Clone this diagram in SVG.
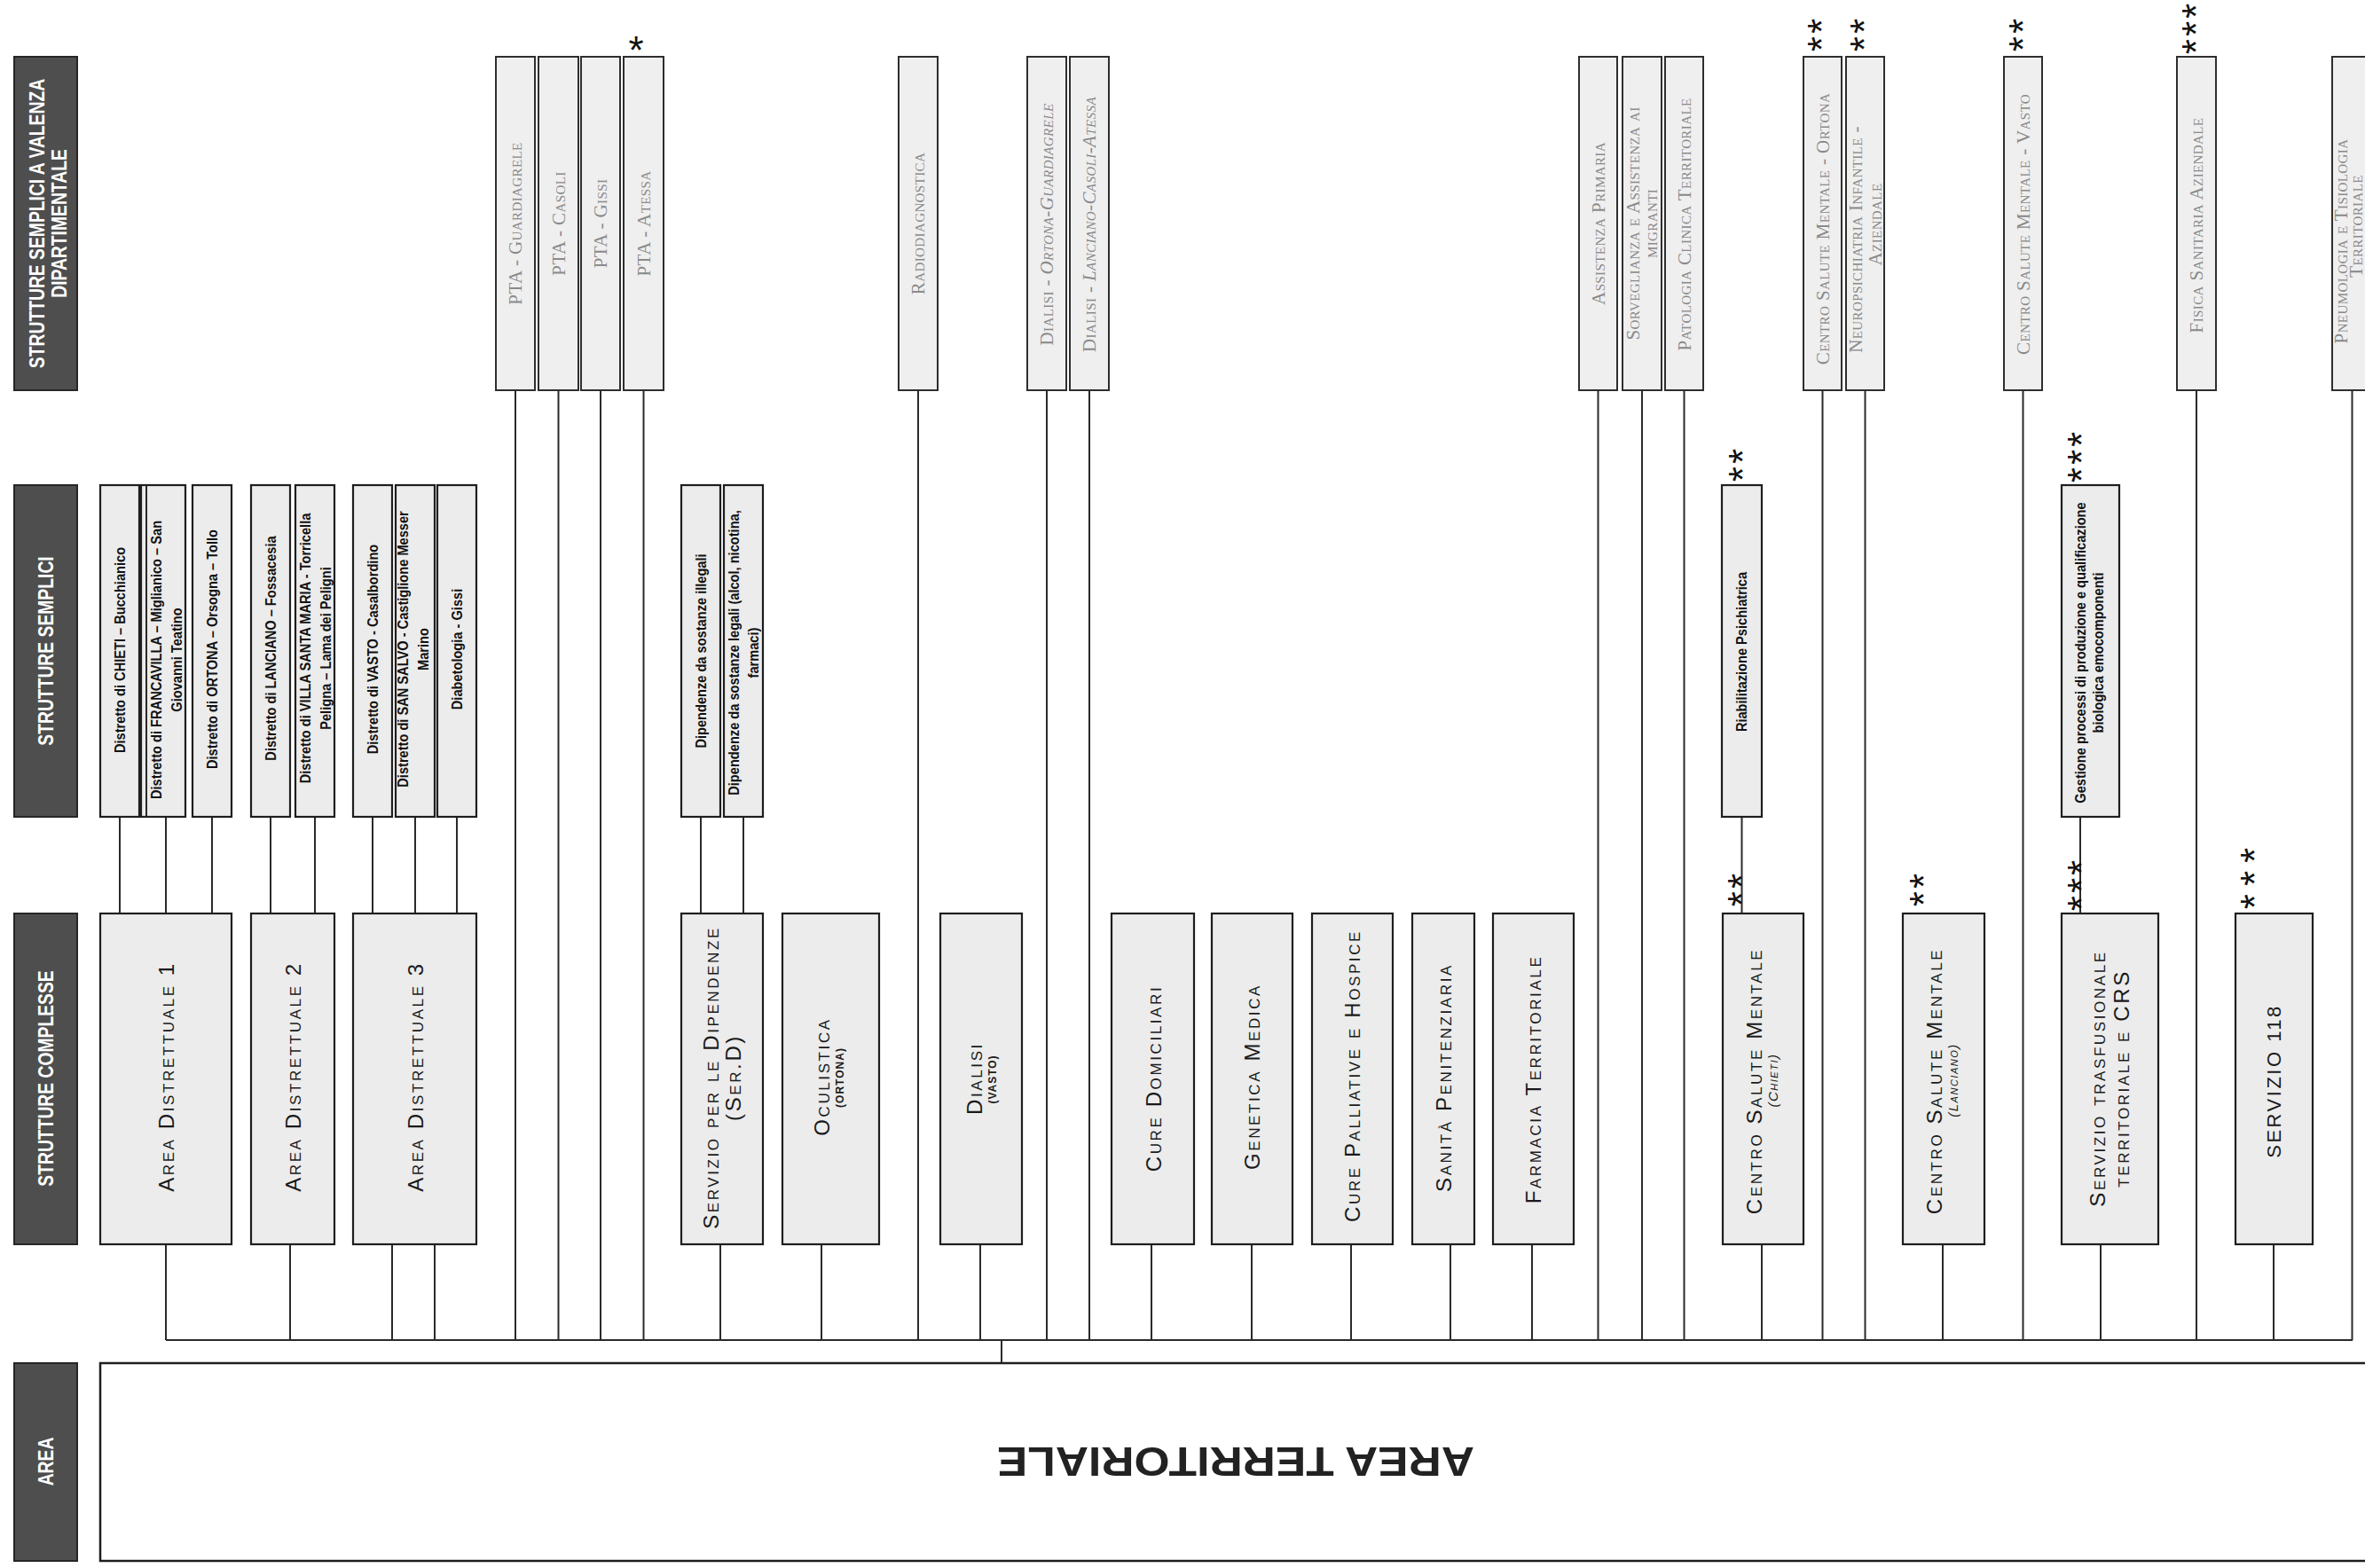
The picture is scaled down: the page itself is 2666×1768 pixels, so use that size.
<svg xmlns="http://www.w3.org/2000/svg" width="2666" height="1768" viewBox="0 0 2666 1768">
<style>
.hdr{fill:#4e4e4e;stroke:#262626;stroke-width:2}
.ht{fill:#ffffff;font-family:"Liberation Sans",Arial,sans-serif;font-weight:bold;font-size:23px;text-anchor:middle;dominant-baseline:central}
.bx{fill:#ececec;stroke:#1e1e1e;stroke-width:2.2}
.tb{fill:#efefef;stroke:#2e2e2e;stroke-width:2}
.tt{fill:#8a8a8a;font-family:"Liberation Serif","Times New Roman",serif;font-variant:small-caps;font-size:21px;letter-spacing:0.4px;text-anchor:middle;dominant-baseline:central}
.st{fill:#111111;font-family:"Liberation Sans",Arial,sans-serif;font-weight:bold;font-size:17px;text-anchor:middle;dominant-baseline:central}
.ct{fill:#1a1a1a;font-family:"Liberation Sans",Arial,sans-serif;font-variant:small-caps;font-size:24px;letter-spacing:2.6px;text-anchor:middle;dominant-baseline:central}
.cs{fill:#1a1a1a;font-family:"Liberation Sans",Arial,sans-serif;font-size:12px;font-weight:bold;letter-spacing:1px;text-anchor:middle;dominant-baseline:central}
.ci{fill:#1a1a1a;font-family:"Liberation Sans",Arial,sans-serif;font-variant:small-caps;font-style:italic;font-size:15px;letter-spacing:1.5px;text-anchor:middle;dominant-baseline:central}
.ln{stroke:#2a2a2a;stroke-width:2;fill:none}
.star{fill:#111111;font-family:"Liberation Sans",Arial,sans-serif;font-size:44px;text-anchor:middle}
.stars{fill:#111111;font-family:"Liberation Sans",Arial,sans-serif;font-size:44px;letter-spacing:3px;text-anchor:middle}
.area{fill:#ffffff;stroke:#1e1e1e;stroke-width:2.5}
.at{fill:#222222;font-family:"Liberation Sans",Arial,sans-serif;font-weight:bold;font-size:46px;text-anchor:middle;dominant-baseline:central}
.it{font-style:italic}
</style>
<rect x="0" y="0" width="2666" height="1768" fill="#ffffff"/>

<!-- headers -->
<g id="hdr-valenza">
<rect class="hdr" x="16" y="64" width="71" height="376"/>
<text class="ht" transform="translate(42,252) rotate(-90) scale(0.84 1)">STRUTTURE SEMPLICI A VALENZA</text>
<text class="ht" transform="translate(67,252) rotate(-90) scale(0.84 1)">DIPARTIMENTALE</text>
</g>
<g id="hdr-semplici">
<rect class="hdr" x="16" y="547" width="71" height="374"/>
<text class="ht" transform="translate(51.5,734) rotate(-90) scale(0.84 1)">STRUTTURE SEMPLICI</text>
</g>
<g id="hdr-complesse">
<rect class="hdr" x="16" y="1030" width="71" height="373"/>
<text class="ht" transform="translate(51.5,1216) rotate(-90) scale(0.84 1)">STRUTTURE COMPLESSE</text>
</g>
<g id="hdr-area">
<rect class="hdr" x="16" y="1537" width="71" height="223"/>
<text class="ht" transform="translate(51.5,1648) rotate(-90) scale(0.84 1)">AREA</text>
</g>

<!-- connectors -->
<g id="connectors">
<path class="ln" d="M581 440V1511M629.5 440V1511M677 440V1511M725.5 440V1511M1035 440V1511M1180 440V1511M1228 440V1511M1801.5 440V1511M1851 440V1511M1898.5 440V1511M2054.5 440V1511M2102.5 440V1511M2280.5 440V1511M2476 440V1511M2651.5 440V1511"/>
<path class="ln" d="M135 921V1030M187 921V1030M239 921V1030M305 921V1030M355 921V1030M420 921V1030M468 921V1030M515 921V1030M790 921V1030M838 921V1030M1963.5 921V1030M2345 921V1030"/>
<path class="ln" d="M187 1403V1511M327 1403V1511M442 1403V1511M490 1403V1511M812 1403V1511M926 1403V1511M1105 1403V1511M1298 1403V1511M1411 1403V1511M1523 1403V1511M1635 1403V1511M1727 1403V1511M1986 1403V1511M2190 1403V1511M2368 1403V1511M2563 1403V1511"/>
<path class="ln" d="M187 1511H2652M1129 1511V1537"/>
</g>

<!-- area -->
<g id="area-territoriale">
<rect class="area" x="113" y="1537" width="2580" height="223"/>
<text class="at" transform="translate(1393,1648) rotate(180) scale(1.12 1)">AREA TERRITORIALE</text>
</g>

<!-- top row: strutture semplici a valenza dipartimentale -->
<g id="pta-guardiagrele"><rect class="tb" x="559" y="64" width="44" height="376"/><text class="tt" transform="translate(581,252) rotate(-90)">PTA - Guardiagrele</text></g>
<g id="pta-casoli"><rect class="tb" x="607" y="64" width="45" height="376"/><text class="tt" transform="translate(629.5,252) rotate(-90)">PTA - Casoli</text></g>
<g id="pta-gissi"><rect class="tb" x="655" y="64" width="44" height="376"/><text class="tt" transform="translate(677,252) rotate(-90)">PTA - Gissi</text></g>
<g id="pta-atessa"><rect class="tb" x="703" y="64" width="45" height="376"/><text class="tt" transform="translate(725.5,252) rotate(-90)">PTA - Atessa</text><text class="star" x="717" y="72">*</text></g>
<g id="radiodiagnostica"><rect class="tb" x="1013" y="64" width="44" height="376"/><text class="tt" transform="translate(1035,252) rotate(-90)">Radiodiagnostica</text></g>
<g id="dialisi-ortona"><rect class="tb" x="1158" y="64" width="44" height="376"/><text class="tt" transform="translate(1180,253) rotate(-90)">Dialisi - <tspan class="it">Ortona-Guardiagrele</tspan></text></g>
<g id="dialisi-lanciano"><rect class="tb" x="1206" y="64" width="44" height="376"/><text class="tt" transform="translate(1228,253) rotate(-90)">Dialisi - <tspan class="it">Lanciano-Casoli-Atessa</tspan></text></g>
<g id="assistenza-primaria"><rect class="tb" x="1780" y="64" width="43" height="376"/><text class="tt" transform="translate(1801.5,252) rotate(-90)">Assistenza Primaria</text></g>
<g id="sorveglianza"><rect class="tb" x="1829" y="64" width="44" height="376"/><text class="tt" transform="translate(1851,252) rotate(-90)"><tspan x="0" dy="-10">Sorveglianza e Assistenza ai</tspan><tspan x="0" dy="20">migranti</tspan></text></g>
<g id="patologia-clinica"><rect class="tb" x="1877" y="64" width="43" height="376"/><text class="tt" transform="translate(1898.5,253) rotate(-90)">Patologia Clinica Territoriale</text></g>
<g id="csm-ortona"><rect class="tb" x="2033" y="64" width="43" height="376"/><text class="tt" transform="translate(2054.5,258) rotate(-90)">Centro Salute Mentale - Ortona</text><text class="stars" transform="translate(2069,38) rotate(-90)">**</text></g>
<g id="neuropsichiatria"><rect class="tb" x="2081" y="64" width="43" height="376"/><text class="tt" transform="translate(2092,270) rotate(-90)">Neuropsichiatria Infantile -</text><text class="tt" transform="translate(2114,253) rotate(-90)">Aziendale</text><text class="stars" transform="translate(2117,38) rotate(-90)">**</text></g>
<g id="csm-vasto"><rect class="tb" x="2259" y="64" width="43" height="376"/><text class="tt" transform="translate(2280.5,253) rotate(-90)">Centro Salute Mentale - Vasto</text><text class="stars" transform="translate(2296,38) rotate(-90)">**</text></g>
<g id="fisica-sanitaria"><rect class="tb" x="2454" y="64" width="44" height="376"/><text class="tt" transform="translate(2476,254) rotate(-90)">Fisica Sanitaria Aziendale</text><text class="stars" transform="translate(2491,31) rotate(-90)">***</text></g>
<g id="pneumologia"><rect class="tb" x="2629" y="64" width="45" height="376"/><text class="tt" transform="translate(2639,272) rotate(-90)">Pneumologia e Tisiologia</text><text class="tt" transform="translate(2656,255) rotate(-90)">Territoriale</text></g>

<!-- strutture semplici -->
<g id="d-chieti"><rect class="bx" x="113" y="547" width="44" height="374"/><text class="st" transform="translate(135,733) rotate(-90) scale(0.86 1)">Distretto di CHIETI – Bucchianico</text></g>
<g id="d-francavilla"><rect class="bx" x="159" y="547" width="50" height="374"/><line class="ln" x1="165" y1="547" x2="165" y2="921"/><text class="st" transform="translate(187,744) rotate(-90) scale(0.86 1)"><tspan x="0" dy="-11.5">Distretto di FRANCAVILLA – Miglianico – San</tspan><tspan x="0" dy="23">Giovanni Teatino</tspan></text></g>
<g id="d-ortona"><rect class="bx" x="217" y="547" width="44" height="374"/><text class="st" transform="translate(239,732) rotate(-90) scale(0.86 1)">Distretto di ORTONA – Orsogna – Tollo</text></g>
<g id="d-lanciano"><rect class="bx" x="283" y="547" width="44" height="374"/><text class="st" transform="translate(305,731) rotate(-90) scale(0.86 1)">Distretto di LANCIANO – Fossacesia</text></g>
<g id="d-villa"><rect class="bx" x="333" y="547" width="44" height="374"/><text class="st" transform="translate(355,731) rotate(-90) scale(0.86 1)"><tspan x="0" dy="-11.5">Distretto di VILLA SANTA MARIA - Torricella</tspan><tspan x="0" dy="23">Peligna – Lama dei Peligni</tspan></text></g>
<g id="d-vasto"><rect class="bx" x="398" y="547" width="44" height="374"/><text class="st" transform="translate(420,732) rotate(-90) scale(0.86 1)">Distretto di VASTO - Casalbordino</text></g>
<g id="d-sansalvo"><rect class="bx" x="446" y="547" width="44" height="374"/><text class="st" transform="translate(465,732) rotate(-90) scale(0.86 1)"><tspan x="0" dy="-11.5">Distretto di SAN SALVO - Castiglione Messer</tspan><tspan x="0" dy="23">Marino</tspan></text></g>
<g id="diabetologia"><rect class="bx" x="493" y="547" width="44" height="374"/><text class="st" transform="translate(515,732) rotate(-90) scale(0.86 1)">Diabetologia - Gissi</text></g>
<g id="dip-illegali"><rect class="bx" x="768" y="547" width="44" height="374"/><text class="st" transform="translate(790,734) rotate(-90) scale(0.86 1)">Dipendenze da sostanze illegali</text></g>
<g id="dip-legali"><rect class="bx" x="816" y="547" width="44" height="374"/><text class="st" transform="translate(838,736) rotate(-90) scale(0.86 1)"><tspan x="0" dy="-11">Dipendenze da sostanze legali (alcol, nicotina,</tspan><tspan x="0" dy="22">farmaci)</tspan></text></g>
<g id="riabilitazione"><rect class="bx" x="1941" y="547" width="45" height="374"/><text class="st" transform="translate(1963.5,735) rotate(-90) scale(0.86 1)">Riabilitazione Psichiatrica</text><text class="stars" transform="translate(1980,523) rotate(-90)">**</text></g>
<g id="gestione-emocomponenti"><rect class="bx" x="2324" y="547" width="65" height="374"/><text class="st" transform="translate(2355,736) rotate(-90) scale(0.86 1)"><tspan x="0" dy="-10">Gestione processi di produzione e qualificazione</tspan><tspan x="0" dy="20">biologica emocomponenti</tspan></text><text class="stars" transform="translate(2362,514) rotate(-90)">***</text></g>

<!-- strutture complesse -->
<g id="ad1"><rect class="bx" x="113" y="1030" width="148" height="373"/><text class="ct" transform="translate(187,1214) rotate(-90)">Area Distrettuale 1</text></g>
<g id="ad2"><rect class="bx" x="283" y="1030" width="94" height="373"/><text class="ct" transform="translate(330,1214) rotate(-90)">Area Distrettuale 2</text></g>
<g id="ad3"><rect class="bx" x="398" y="1030" width="139" height="373"/><text class="ct" transform="translate(468,1214) rotate(-90)">Area Distrettuale 3</text></g>
<g id="serd"><rect class="bx" x="768" y="1030" width="92" height="373"/><text class="ct" transform="translate(813,1215) rotate(-90)"><tspan x="0" dy="-12.5">Servizio per le Dipendenze</tspan><tspan x="0" dy="25">(Ser.D)</tspan></text></g>
<g id="oculistica"><rect class="bx" x="882" y="1030" width="109" height="373"/><text class="ct" transform="translate(926,1214) rotate(-90)">Oculistica</text><text class="cs" transform="translate(947,1215) rotate(-90)">(ORTONA)</text></g>
<g id="dialisi-vasto"><rect class="bx" x="1060" y="1030" width="92" height="373"/><text class="ct" transform="translate(1098,1216) rotate(-90)">Dialisi</text><text class="cs" transform="translate(1119,1217) rotate(-90)">(VASTO)</text></g>
<g id="cure-domiciliari"><rect class="bx" x="1253" y="1030" width="93" height="373"/><text class="ct" transform="translate(1300,1216) rotate(-90)">Cure Domiciliari</text></g>
<g id="genetica-medica"><rect class="bx" x="1366" y="1030" width="91" height="373"/><text class="ct" transform="translate(1411,1214) rotate(-90)">Genetica Medica</text></g>
<g id="cure-palliative"><rect class="bx" x="1479" y="1030" width="91" height="373"/><text class="ct" transform="translate(1524,1213) rotate(-90)">Cure Palliative e Hospice</text></g>
<g id="sanita-penitenziaria"><rect class="bx" x="1592" y="1030" width="70" height="373"/><text class="ct" transform="translate(1627,1215) rotate(-90)">Sanità Penitenziaria</text></g>
<g id="farmacia-territoriale"><rect class="bx" x="1683" y="1030" width="91" height="373"/><text class="ct" transform="translate(1728,1217) rotate(-90)">Farmacia Territoriale</text></g>
<g id="csm-chieti"><rect class="bx" x="1942" y="1030" width="91" height="373"/><text class="ct" transform="translate(1977,1219) rotate(-90)">Centro Salute Mentale</text><text class="ci" transform="translate(1998,1218) rotate(-90)">(Chieti)</text><text class="stars" transform="translate(1979,1002) rotate(-90)">**</text></g>
<g id="csm-lanciano"><rect class="bx" x="2145" y="1030" width="92" height="373"/><text class="ct" transform="translate(2180,1219) rotate(-90)">Centro Salute Mentale</text><text class="ci" transform="translate(2201,1218) rotate(-90)">(Lanciano)</text><text class="stars" transform="translate(2184,1002) rotate(-90)">**</text></g>
<g id="servizio-trasfusionale"><rect class="bx" x="2324" y="1030" width="109" height="373"/><text class="ct" transform="translate(2377.5,1216) rotate(-90)"><tspan x="0" dy="-13.5">Servizio trasfusionale</tspan><tspan x="0" dy="27">territoriale e CRS</tspan></text><text class="stars" transform="translate(2362,997) rotate(-90)">***</text></g>
<g id="servizio-118"><rect class="bx" x="2520" y="1030" width="87" height="373"/><text class="ct" style="font-variant:normal;font-size:22px;letter-spacing:2.5px" transform="translate(2563,1219) rotate(-90)">SERVIZIO 118</text><text class="stars" style="letter-spacing:9px" transform="translate(2557,986) rotate(-90)">***</text></g>
</svg>
